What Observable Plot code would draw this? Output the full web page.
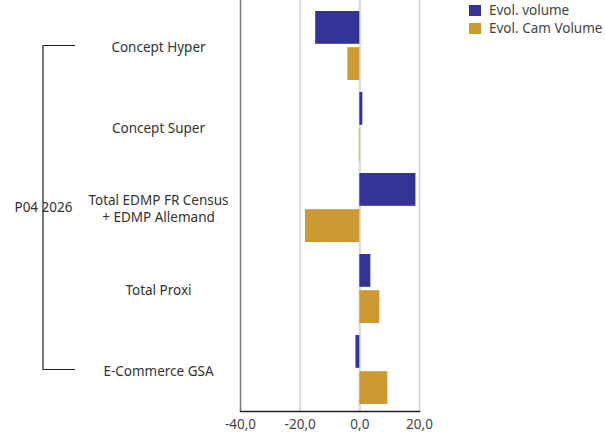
<!DOCTYPE html>
<html>
<head>
<meta charset="utf-8">
<script src="https://cdn.jsdelivr.net/npm/d3@7"></script>
<script src="https://cdn.jsdelivr.net/npm/@observablehq/plot@0.6"></script>
<style>
  html, body { margin: 0; padding: 0; background: #fff; }
  #wrap { position: relative; width: 605px; height: 437px; font-family: "Noto Sans", Roboto, sans-serif; }
  #legend { position: absolute; left: 469px; top: 1px; font-size: 13.5px; color: #444; }
  .li { display: flex; align-items: center; height: 18.5px; }
  .li span { line-height: 1; }
  .sw { width: 12px; height: 11px; margin-right: 8px; }
</style>
</head>
<body>
<div id="wrap">
  <div id="chart"></div>
  <div id="legend"></div>
</div>
<script>
const categories = ["Concept Hyper", "Concept Super", "Total EDMP FR Census + EDMP Allemand", "Total Proxi", "E-Commerce GSA"];
const labels = ["Concept Hyper", "Concept Super", "Total EDMP FR Census\n+ EDMP Allemand", "Total Proxi", "E-Commerce GSA"];
const series = ["Evol. volume", "Evol. Cam Volume"];
const evolVolume = [-14.8, 1.0, 18.8, 3.7, -1.3];
const evolCamVolume = [-4.0, -0.2, -18.2, 6.7, 9.4];
const xTicks = [-40, -20, 0, 20];
const groupLabel = "P04 2026";
const colors = ["#333399", "#CC9933"];

const volData = categories.map((c, i) => ({category: c, value: evolVolume[i]}));
const camData = categories.map((c, i) => ({category: c, value: evolCamVolume[i]}));
const labelData = categories.map((c, i) => ({category: c, label: labels[i]}));

const H = 437, MB = 26, MT = 0;
const rangeTop = 4, rangeBottom = H - MB;
const pIn = 0.15, pOut = 0.075;
const step = (rangeBottom - rangeTop) / (categories.length - pIn + 2 * pOut);
const bw = step * (1 - pIn);
const barH = 33;
const inset = bw - barH;

const fmt = d => d.toFixed(1).replace(".", ",");
const FS = 13.5;

const chart = Plot.plot({
  width: 605,
  height: H,
  marginLeft: 240,
  marginRight: 186,
  marginTop: MT,
  marginBottom: MB,
  style: {fontFamily: "'Noto Sans', Roboto, sans-serif", fontSize: FS + "px", background: "#fff"},
  x: {domain: [-40, 20], axis: null, label: null},
  y: {domain: categories, range: [rangeTop, rangeBottom], paddingInner: pIn, paddingOuter: pOut, axis: null, label: null},
  marks: [
    Plot.ruleX([-20, 20], {stroke: "#d2d2d2", strokeWidth: 1.5}),
    Plot.ruleX([0], {stroke: "#dedede", strokeWidth: 2.5}),
    Plot.ruleX([-40], {stroke: "#777", strokeWidth: 1.5}),
    Plot.barX(volData, {x: "value", y: "category", fill: colors[0], insetBottom: inset}),
    Plot.barX(camData, {x: "value", y: "category", fill: colors[1], insetTop: inset}),
    Plot.frame({anchor: "bottom", stroke: "#222", strokeWidth: 1.5}),
    Plot.axisX({ticks: xTicks, tickSize: 0, tickPadding: 8, tickFormat: fmt, fill: "#444", fontSize: FS, label: null}),
    Plot.text(labelData, {y: "category", text: "label", frameAnchor: "left", dx: -82, textAnchor: "middle", fill: "#333", fontSize: FS, lineHeight: 1.3})
  ]
});
document.getElementById("chart").appendChild(chart);

// bracket spanning the categories, placed with the y scale
const ys = chart.scale("y");
const yFirst = ys.apply(categories[0]) + ys.bandwidth / 2;
const yLast = ys.apply(categories[categories.length - 1]) + ys.bandwidth / 2;
const yMid = ys.apply(categories[Math.floor(categories.length / 2)]) + ys.bandwidth / 2;
const svg = d3.select(chart);
const g = svg.append("g").attr("stroke", "#222").attr("fill", "none").attr("stroke-width", 1.2);
g.append("path").attr("d", `M75,${yFirst}H43V${yLast}H75`);
svg.append("text")
  .attr("x", 43.5).attr("y", yMid).attr("dy", "0.35em")
  .attr("text-anchor", "middle").attr("fill", "#333")
  .style("font-size", FS + "px")
  .text(groupLabel);

// legend
const legend = d3.select("#legend");
series.forEach((s, i) => {
  const row = legend.append("div").attr("class", "li");
  row.append("div").attr("class", "sw").style("background", colors[i]);
  row.append("span").text(s);
});
</script>
</body>
</html>
